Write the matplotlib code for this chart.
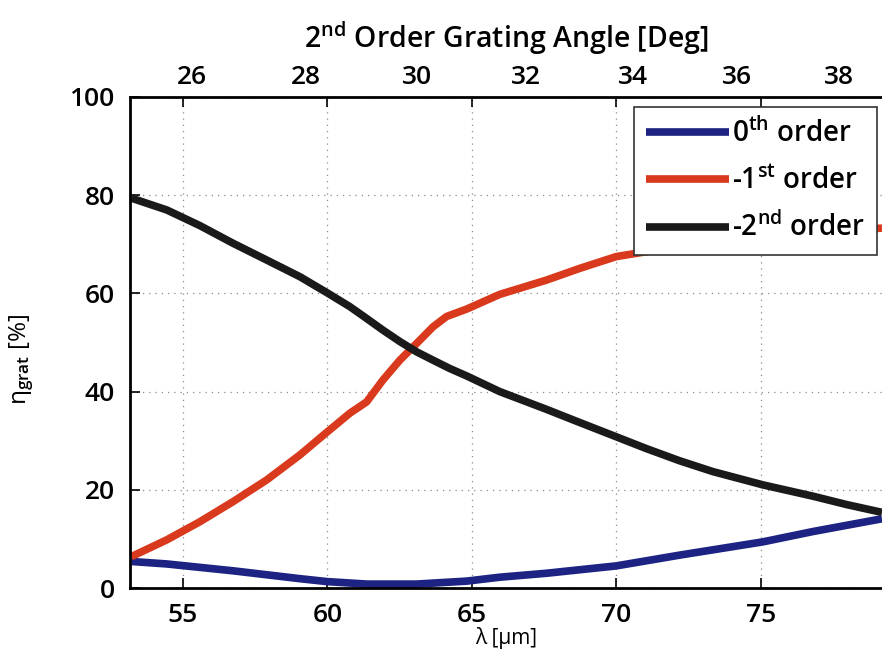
import numpy as np
import matplotlib
matplotlib.use("Agg")
import matplotlib.pyplot as plt

plt.rcParams["font.family"] = ["Open Sans", "DejaVu Sans"]
plt.rcParams["font.weight"] = "semibold"
plt.rcParams["mathtext.fontset"] = "custom"
plt.rcParams["mathtext.rm"] = "Open Sans:semibold"
plt.rcParams["mathtext.it"] = "Open Sans:italic:semibold"
plt.rcParams["mathtext.bf"] = "Open Sans:bold"

# Wavelength samples [um] and grating efficiencies [%]
lam_zero = [53.22, 54.44, 56.74, 59.05, 60.0, 61.36, 63.09, 64.82, 65.97, 67.58, 70.0, 72.2, 75.08, 76.81, 79.2]
eta_zero = [5.4, 4.9, 3.5, 1.9, 1.3, 0.8, 0.8, 1.4, 2.2, 3.0, 4.5, 6.7, 9.4, 11.5, 14.1]

lam_first = [53.22, 54.44, 55.59, 56.74, 57.90, 59.05, 60.0, 60.78, 61.36, 61.93, 62.51, 63.09,
             63.66, 64.13, 64.82, 65.97, 67.58, 68.74, 70.0, 72.0, 74.0, 76.0, 78.0, 79.2]
eta_first = [6.4, 9.8, 13.5, 17.6, 22.0, 27.1, 31.8, 35.6, 37.9, 42.4, 46.4, 49.8,
             53.2, 55.3, 56.8, 59.8, 62.7, 65.1, 67.5, 69.4, 70.9, 72.0, 72.9, 73.3]

lam_second = [53.22, 54.44, 55.59, 56.74, 57.90, 59.05, 60.0, 60.78, 61.36, 61.93, 62.51, 63.09,
              63.66, 64.24, 64.82, 65.97, 67.58, 68.74, 70.0, 71.04, 72.2, 73.35, 75.08, 76.81,
              77.97, 79.2]
eta_second = [79.4, 77.0, 73.8, 70.2, 66.8, 63.4, 60.1, 57.3, 54.9, 52.5, 50.2, 48.1,
              46.4, 44.7, 43.2, 40.0, 36.4, 33.7, 30.8, 28.4, 25.9, 23.7, 21.0, 18.7,
              17.0, 15.4]

labels = ["0$^{\\mathrm{th}}$ order", "-1$^{\\mathrm{st}}$ order", "-2$^{\\mathrm{nd}}$ order"]
colors = ["#1c2382", "#d9391c", "#1a1a1a"]

x_ticks = [55, 60, 65, 70, 75]
y_ticks = [0, 20, 40, 60, 80, 100]
angle_ticks = [26, 28, 30, 32, 34, 36, 38]
K_LAMBDA = 126.2  # lambda = K * sin(theta) for the 2nd order

fig = plt.figure(figsize=(8.82, 6.62), dpi=100)
ax = fig.add_axes([130 / 882, 74 / 662, 752 / 882, 491 / 662])

lw = 5.5
for lam, eta, lab, col in zip([lam_zero, lam_first, lam_second],
                              [eta_zero, eta_first, eta_second], labels, colors):
    ax.plot(lam, eta, color=col, lw=lw, label=lab, solid_capstyle="butt",
            solid_joinstyle="round")

ax.set_xlim(53.17, 79.2)
ax.set_ylim(0, 100)
ax.set_xticks(x_ticks)
ax.set_yticks(y_ticks)
ax.grid(True, linestyle=(0, (1, 4)), color="#8a8a8a", lw=0.9)
ax.tick_params(direction="in", length=7, width=1.2, labelsize=19,
               top=True, labeltop=False, right=False)
ax.tick_params(axis="x", pad=11)
ax.tick_params(axis="y", pad=11)
for side in ["left", "bottom", "top"]:
    ax.spines[side].set_linewidth(2.0)
ax.spines["right"].set_visible(False)

ax.set_xlabel("λ [μm]", fontsize=15, fontweight="normal")
ax.xaxis.set_label_coords(0.5, -0.08)
ax.set_ylabel("η$_{\\mathrm{grat}}$ [%]", fontsize=17.5, fontweight="normal")
ax.yaxis.set_label_coords(-0.125, 0.465)


def lam_to_ang(lam):
    return np.degrees(np.arcsin(np.clip(np.asarray(lam) / K_LAMBDA, -1, 1)))


def ang_to_lam(ang):
    return K_LAMBDA * np.sin(np.radians(ang))


sec = ax.secondary_xaxis("top", functions=(lam_to_ang, ang_to_lam))
sec.set_xticks(angle_ticks)
sec.tick_params(length=0, labelsize=19, pad=5)
sec.spines["top"].set_visible(False)
sec.set_xlabel("2$^{\\mathrm{nd}}$ Order Grating Angle [Deg]", fontsize=20.5,
               fontweight="semibold", labelpad=12)

leg = ax.legend(loc="upper right", bbox_to_anchor=(0.993, 0.98), borderaxespad=0,
                fontsize=20, handlelength=3.0, handletextpad=0.1, labelspacing=0.62,
                borderpad=0.42, fancybox=False, framealpha=1, edgecolor="#333333")
leg.get_frame().set_linewidth(1.2)
for line in leg.get_lines():
    line.set_linewidth(lw)

fig.savefig("out.png", dpi=100)
